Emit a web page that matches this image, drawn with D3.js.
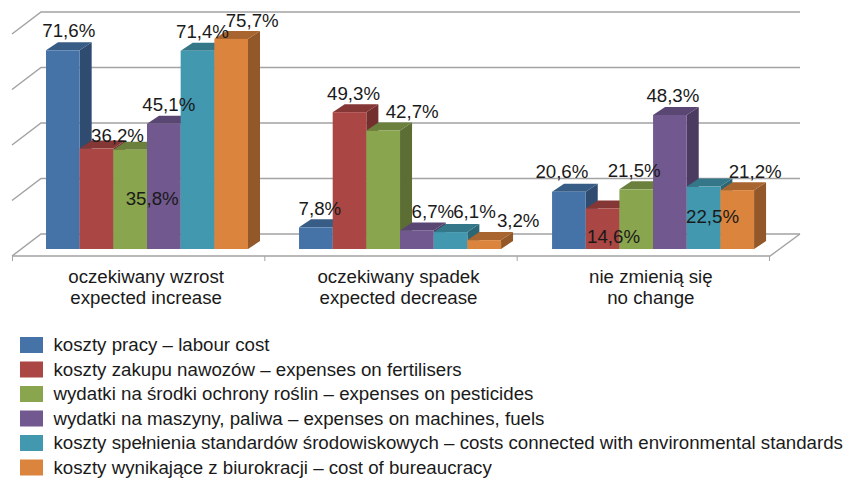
<!DOCTYPE html>
<html>
<head>
<meta charset="utf-8">
<script src="https://cdn.jsdelivr.net/npm/d3@7"></script>
<style>
  html, body { margin: 0; padding: 0; background: #fff; }
  text { font-family: "Liberation Sans", Arial, sans-serif; fill: #1a1a1a; }
</style>
</head>
<body>
<div id="chart"></div>
<script>
// 3D-look clustered columns, drawn by hand since d3 has no 3D bars

const categories = [
  ["oczekiwany wzrost", "expected increase"],
  ["oczekiwany spadek", "expected decrease"],
  ["nie zmienią się", "no change"]
];
const seriesNames = [
  "koszty pracy – labour cost",
  "koszty zakupu nawozów – expenses on fertilisers",
  "wydatki na środki ochrony roślin – expenses on pesticides",
  "wydatki na maszyny, paliwa – expenses on machines, fuels",
  "koszty spełnienia standardów środowiskowych – costs connected with environmental standards",
  "koszty wynikające z biurokracji – cost of bureaucracy"
];
const labourCost = [71.6, 7.8, 20.6];
const fertilisers = [36.2, 49.3, 14.6];
const pesticides = [35.8, 42.7, 21.5];
const machines = [45.1, 6.7, 48.3];
const standards = [71.4, 6.1, 22.5];
const bureaucracy = [75.7, 3.2, 21.2];
const gridTicks = [0, 20, 40, 60, 80];

// front, top, side
const colors = [
  ["#4572a7", "#375c85", "#2f4b70"],
  ["#aa4643", "#843735", "#722f2d"],
  ["#89a54e", "#6b803d", "#5c6e34"],
  ["#71588f", "#5a4672", "#4b3b60"],
  ["#4198af", "#337788", "#2b6675"],
  ["#db843d", "#a8652f", "#925829"]
];

// hand placed labels in the original: offset from bar centre / bar top, per series then category
const labelNudge = [
  [[6, -13], [4, -12], [-7, -14]],
  [[21, -7], [4, -12], [11, 35]],
  [[22, 55], [29, -13], [-2, -12]],
  [[5, -13], [16, -12], [3, -13]],
  [[5, -13], [24, -14], [9, 36]],
  [[21, -12], [34, -13], [18, -12]]
];

const allSeries = [labourCost, fertilisers, pesticides, machines, standards, bureaucracy];

const width = 843, height = 478;
const depthX = 12, depthY = 8;        // bar depth
const floorFront = 256, floorBack = 234, barBase = 249;
const wallFrontX = 12, wallBackX = 41, wallRightX = 800, frontRightX = 770;

const svg = d3.select("#chart").append("svg")
  .attr("width", width)
  .attr("height", height)
  .style("display", "block");

const y = d3.scaleLinear().domain([0, 80]).range([0, -222]);

const x0 = d3.scaleBand()
  .domain(d3.range(categories.length))
  .range([12, 769]);

const x1 = d3.scaleBand()
  .domain(d3.range(allSeries.length))
  .range([0, 202]);

const groupStart = i => x0(i) + 34 + i * 0.7;

// walls and gridlines
svg.selectAll(".grid")
  .data(gridTicks)
  .join("path")
  .attr("class", "grid")
  .attr("fill", "none")
  .attr("stroke", "#a3a3a3")
  .attr("stroke-width", 1.5)
  .attr("d", d => `M${wallFrontX},${floorFront + y(d)}L${wallBackX},${floorBack + y(d)}L${wallRightX},${floorBack + y(d)}`);

// floor
svg.append("path")
  .attr("fill", "none")
  .attr("stroke", "#a3a3a3")
  .attr("stroke-width", 1.5)
  .attr("d", `M${wallRightX},${floorBack}L${frontRightX},${floorFront}L${wallFrontX},${floorFront}`);

// category ticks
svg.selectAll(".tick")
  .data(d3.range(categories.length + 1))
  .join("line")
  .attr("class", "tick")
  .attr("x1", d => 12.5 + d * x0.step())
  .attr("x2", d => 12.5 + d * x0.step())
  .attr("y1", floorFront)
  .attr("y2", 261)
  .attr("stroke", "#a3a3a3")
  .attr("stroke-width", 1);

// Bars
categories.forEach((c, ci) => {
  const g = svg.append("g").attr("transform", `translate(${groupStart(ci)},0)`);
  allSeries.forEach((vals, si) => {
    const v = vals[ci];
    const left = x1(si), w = x1.bandwidth();
    const top = barBase + y(v);
    g.append("path")
      .attr("fill", colors[si][2])
      .attr("d", `M${left + w},${top}L${left + w + depthX},${top - depthY}L${left + w + depthX},${barBase - depthY}L${left + w},${barBase}Z`);
    g.append("path")
      .attr("fill", colors[si][1])
      .attr("d", `M${left},${top}L${left + depthX},${top - depthY}L${left + w + depthX},${top - depthY}L${left + w},${top}Z`);
    g.append("rect")
      .attr("x", left)
      .attr("y", top)
      .attr("width", w)
      .attr("height", barBase - top)
      .attr("fill", colors[si][0]);
  });
});

// Value labels go last, they sit on top of the bars
allSeries.forEach((vals, si) => {
  svg.selectAll(".value" + si)
    .data(vals)
    .join("text")
    .attr("class", "value" + si)
    .attr("x", (d, ci) => groupStart(ci) + x1(si) + x1.bandwidth() / 2 + labelNudge[si][ci][0])
    .attr("y", (d, ci) => barBase + y(d) + labelNudge[si][ci][1])
    .attr("text-anchor", "middle")
    .style("font-size", "18.7px")
    .text(d => String(d).replace(".", ",") + "%");
});

// Category labels, two lines each
categories.forEach((lines, ci) => {
  svg.selectAll(".cat" + ci)
    .data(lines)
    .join("text")
    .attr("class", "cat" + ci)
    .attr("x", x0(ci) + x0.bandwidth() / 2 + 8)
    .attr("y", (d, i) => 283 + i * 21)
    .attr("text-anchor", "middle")
    .style("font-size", "18.7px")
    .text(d => d);
});

// Legend
const legend = svg.selectAll(".legend")
  .data(seriesNames)
  .join("g")
  .attr("class", "legend")
  .attr("transform", (d, i) => `translate(20,${337 + i * 24.5})`);

legend.append("rect")
  .attr("width", 23)
  .attr("height", 16)
  .attr("fill", (d, i) => colors[i][0]);

legend.append("text")
  .attr("x", 33.5)
  .attr("y", 14)
  .style("font-size", "18.7px")
  .text(d => d);
</script>
</body>
</html>
